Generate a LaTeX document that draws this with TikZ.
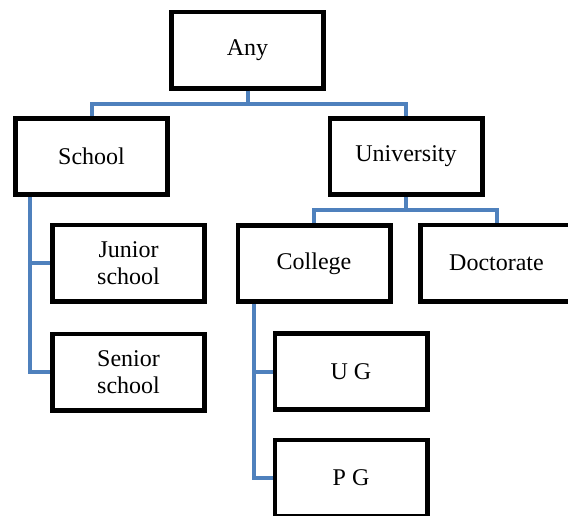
\documentclass[tikz,border=0pt]{standalone}
\usepackage{fontspec}
\setmainfont{Liberation Serif}
\definecolor{linkblue}{RGB}{79,129,189}
\begin{document}
\begin{tikzpicture}[
    x=0.75pt, y=-0.75pt,
    % Styles
    box/.style={draw=black, fill=white, line width=3.4pt, minimum width=114.35pt, minimum height=57.35pt, inner sep=0pt, align=center, font=\fontsize{18}{20}\selectfont},
    link/.style={draw=linkblue, line width=3pt},
]
\useasboundingbox (0,0) rectangle (568,515);

% Top level
\node[box] (any) at (247.5, 50) {Any};

% Second level
\node[box] (school) at (91.5, 156.5) {School};
\node[box] (university) at (406, 156.5) {University};

% School branch
\node[box] (junior) at (128.5, 263) {Junior\\school};
\node[box] (senior) at (128.5, 372) {Senior\\school};

% University branch
\node[box] (college) at (314, 263.5) {College};
\node[box] (doctorate) at (496.5, 263) {Doctorate};

% College branch
\node[box] (ug) at (351, 371.5) {U G};
\node[box] (pg) at (351, 478) {P G};

% Links
\draw[link] (any.south) -- ++(0, 13) -| (school.north);
\draw[link] (any.south) -- ++(0, 13) -| (university.north);

\draw[link] (university.south) -- ++(0, 13) -| (college.north);
\draw[link] (university.south) -- ++(0, 13) -| (doctorate.north);

\draw[link] ([xshift=12.75pt]school.south west) |- (junior.west);
\draw[link] ([xshift=12.75pt]school.south west) |- (senior.west);

\draw[link] ([xshift=13.5pt]college.south west) |- (ug.west);
\draw[link] ([xshift=13.5pt]college.south west) |- (pg.west);

\end{tikzpicture}
\end{document}
